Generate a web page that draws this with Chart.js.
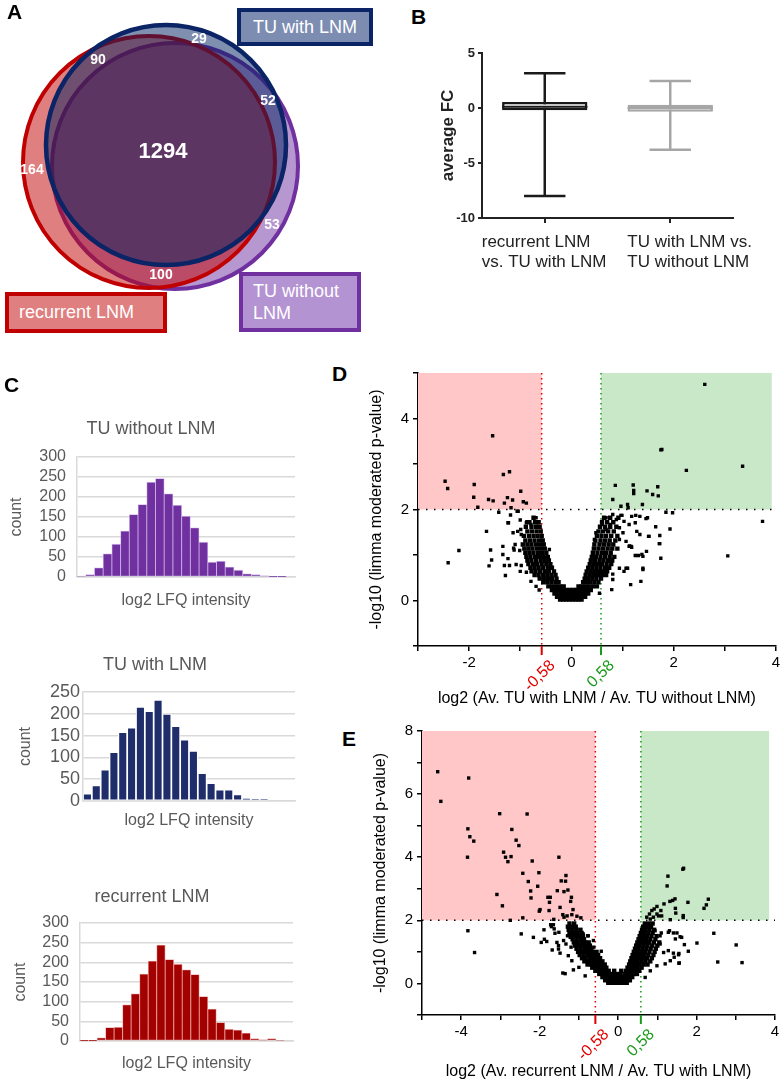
<!DOCTYPE html>
<html>
<head>
<meta charset="utf-8">
<script src="https://cdn.jsdelivr.net/npm/chart.js@4.4.1/dist/chart.umd.min.js"></script>
<style>
  body { margin: 0; background: #fff; }
  #page { position: relative; width: 783px; height: 1081px; overflow: hidden; font-family: "Liberation Sans", Arial, sans-serif; }
  canvas { position: absolute; }
  .letter { position: absolute; font-weight: bold; font-size: 21px; line-height: 21px; color: #000; }
  .tag { position: absolute; box-sizing: border-box; border: 4px solid; color: #fff; font-size: 18px; line-height: 22px; z-index: 3; }
</style>
</head>
<body>
<div id="page">
  <canvas id="venn" width="390" height="340" style="left:0;top:0"></canvas>
  <canvas id="box" width="347" height="239" style="left:436px;top:41px"></canvas>
  <canvas id="hist1" width="300" height="194" style="left:0;top:418px"></canvas>
  <canvas id="hist2" width="300" height="178" style="left:0;top:654px"></canvas>
  <canvas id="hist3" width="300" height="189" style="left:0;top:886px"></canvas>
  <canvas id="volD" width="416" height="373" style="left:367px;top:335px"></canvas>
  <canvas id="volE" width="412" height="366" style="left:371px;top:715px"></canvas>

  <div class="letter" style="left:7px;top:1px">A</div>
  <div class="letter" style="left:411px;top:6px">B</div>
  <div class="letter" style="left:4px;top:374px">C</div>
  <div class="letter" style="left:332px;top:363px">D</div>
  <div class="letter" style="left:342px;top:728px">E</div>

  <div class="tag" style="left:237px;top:8px;width:136px;height:38px;border-color:#0b2466;background:#7d8db2;text-align:center;line-height:30px">TU with LNM</div>
  <div class="tag" style="left:5px;top:292px;width:162px;height:41px;border-color:#c00000;background:#e07f7f;padding-left:10px;line-height:33px">recurrent LNM</div>
  <div class="tag" style="left:239px;top:272px;width:122px;height:60px;border-color:#7030a0;background:#b493d2;padding-left:10px;padding-top:4px">TU without<br>LNM</div>
</div>

<script>
const FONT = '"Liberation Sans", Arial, sans-serif';
Chart.defaults.font.family = FONT;
Chart.defaults.animation = false;
Chart.defaults.plugins.legend.display = false;
Chart.defaults.plugins.tooltip.enabled = false;

// ---- A: Venn ----
const vennSets = ['TU with LNM', 'recurrent LNM', 'TU without LNM'];
const vennX = [166, 149, 175];
const vennY = [145, 162, 166];
const vennR = [120, 126, 123];
const vennCounts = [1294, 90, 29, 52, 164, 53, 100];

// ---- B: box plot ----
const boxLabels = [['recurrent LNM', 'vs. TU with LNM'], ['TU with LNM vs.', 'TU without LNM']];
const boxMin = [-8.0, -3.8];
const boxQ1 = [-0.2, -0.35];
const boxMed = [0.12, 0.0];
const boxQ3 = [0.55, 0.3];
const boxMax = [3.15, 2.45];

// ---- C: histograms ----
const histNoLNM = [2, 6, 23, 58, 82, 115, 156, 181, 237, 246, 208, 179, 152, 123, 87, 37, 39, 25, 17, 8, 6, 3, 1, 1, 0];
const histWithLNM = [17, 36, 72, 112, 158, 168, 216, 206, 232, 200, 172, 141, 115, 64, 41, 26, 26, 15, 7, 4, 4, 0, 0, 0];
const histRecurrent = [1, 1, 8, 34, 35, 92, 120, 170, 203, 244, 207, 195, 181, 169, 113, 81, 47, 30, 28, 20, 6, 3, 6, 2, 0];

// ---- D / E: volcano ----
const fcCut = 0.58;
const pCut = 2;
const cutLabels = ['-0,58', '0,58'];

const dCloud = [
  [0.02, [-0.22, -0.16, -0.10, -0.04, 0.02, 0.08, 0.14, 0.20]],
  [0.08, [-0.28, -0.21, -0.14, -0.08, -0.02, 0.03, 0.09, 0.15, 0.22, 0.27]],
  [0.15, [-0.33, -0.26, -0.19, -0.12, -0.06, 0.0, 0.06, 0.13, 0.20, 0.27, 0.33]],
  [0.23, [-0.38, -0.31, -0.24, -0.17, -0.10, -0.03, 0.04, 0.10, 0.17, 0.24, 0.31, 0.38]],
  [0.31, [-0.45, -0.38, -0.30, -0.22, -0.15, 0.14, 0.20, 0.27, 0.34, 0.42, 0.50]],
  [0.40, [-0.55, -0.47, -0.39, -0.31, -0.25, 0.23, 0.30, 0.37, 0.45, 0.53]],
  [0.48, [-0.62, -0.54, -0.46, -0.38, -0.29, 0.26, 0.33, 0.41, 0.49, 0.58]],
  [0.56, [-0.72, -0.64, -0.55, -0.47, -0.39, -0.31, 0.28, 0.36, 0.44, 0.52, 0.60, 0.68]],
  [0.64, [-0.78, -0.70, -0.61, -0.52, -0.44, -0.34, 0.30, 0.38, 0.46, 0.54, 0.62, 0.70]],
  [0.72, [-0.80, -0.72, -0.64, -0.55, -0.46, -0.38, 0.33, 0.41, 0.49, 0.57, 0.66, 0.74]],
  [0.80, [-0.84, -0.75, -0.67, -0.58, -0.49, -0.41, 0.36, 0.44, 0.52, 0.60, 0.69, 0.78]],
  [0.88, [-0.86, -0.78, -0.69, -0.60, -0.52, -0.44, 0.38, 0.46, 0.55, 0.63, 0.72, 0.80]],
  [0.96, [-0.88, -0.80, -0.71, -0.63, -0.55, -0.46, 0.40, 0.48, 0.57, 0.66, 0.75, 0.84]],
  [1.05, [-0.90, -0.82, -0.74, -0.65, -0.57, -0.49, 0.42, 0.51, 0.60, 0.68, 0.77]],
  [1.14, [-0.92, -0.84, -0.76, -0.67, -0.59, -0.52, 0.44, 0.53, 0.62, 0.71, 0.80, 0.90]],
  [1.23, [-0.95, -0.86, -0.78, -0.69, -0.61, -0.54, 0.45, 0.55, 0.64, 0.73, 0.82]],
  [1.32, [-0.90, -0.81, -0.72, -0.63, -0.56, 0.47, 0.57, 0.66, 0.75, 0.86]],
  [1.42, [-0.93, -0.83, -0.74, -0.66, -0.58, 0.50, 0.59, 0.68, 0.78, 0.90]],
  [1.52, [-0.86, -0.77, -0.68, -0.60, 0.53, 0.62, 0.72, 0.83]],
  [1.62, [-0.89, -0.78, -0.69, -0.62, 0.56, 0.66, 0.76, 0.88]],
  [1.72, [-0.82, -0.71, -0.64, 0.60, 0.70, 0.82]],
  [1.82, [-0.74, 0.64, 0.76, 0.92]]
];
const dScatter = [
  [-2.47, 2.62], [-2.42, 2.46], [-1.54, 3.62], [-1.90, 2.55], [-1.91, 2.27], [-1.83, 2.05], [-1.62, 2.22], [-1.53, 2.19],
  [-1.33, 2.77], [-1.21, 2.83], [-1.31, 2.14], [-1.25, 2.26], [-1.15, 2.21], [-1.18, 2.04], [-0.99, 2.40], [-0.94, 2.17], [-0.88, 2.14],
  [2.61, 4.75], [1.75, 3.31], [1.77, 3.32], [2.25, 2.86], [3.35, 2.95], [0.86, 2.53], [1.21, 2.54], [1.22, 2.42], [1.22, 2.35],
  [1.48, 2.41], [1.59, 2.33], [1.69, 2.50], [1.70, 2.30], [0.81, 2.22], [0.97, 2.07], [1.10, 2.11], [1.11, 2.04], [1.39, 2.11],
  [-1.04, 1.96], [-1.42, 1.94], [-1.19, 1.88], [-1.06, 1.96], [-1.00, 1.77], [-1.23, 1.71], [-0.87, 1.73], [-0.69, 1.82],
  [-1.66, 1.52], [-1.14, 1.49], [-1.05, 1.52], [-0.98, 1.45], [-1.34, 1.19], [-1.58, 1.11], [-2.20, 1.10], [-2.41, 0.83],
  [-1.34, 1.01], [-1.56, 0.89], [-1.61, 0.76], [-1.24, 0.92], [-1.31, 0.77], [-1.21, 0.77], [-1.08, 0.79], [-0.98, 0.77],
  [-1.29, 0.55], [-1.13, 1.15], [-1.12, 1.11], [-1.01, 1.10], [-1.00, 0.64], [-0.88, 0.62], [-0.79, 0.42], [-0.69, 0.31],
  [-0.63, 0.23], [-0.43, 1.12], [-0.50, 0.95], [-0.54, 0.42], [-1.10, 1.23], [-0.99, 1.56], [-0.88, 1.71], [-0.79, 1.67], [-1.24, 1.71],
  [1.85, 1.94], [1.98, 1.93], [1.93, 1.57], [3.74, 1.74], [3.06, 0.98], [1.65, 1.62], [1.73, 1.43], [1.73, 1.25], [1.75, 0.93],
  [1.36, 0.42], [1.40, 0.68], [1.38, 1.01], [1.47, 1.08], [1.16, 0.35], [1.10, 0.71], [1.03, 0.64], [0.79, 0.24], [1.25, 0.99],
  [1.31, 0.99], [1.17, 1.19], [1.14, 1.20], [1.51, 1.41], [1.34, 1.45], [1.28, 1.52], [1.18, 1.85], [1.26, 1.87], [1.46, 1.80],
  [0.99, 1.87], [0.88, 1.78], [0.76, 1.67], [0.68, 1.56], [0.60, 1.67], [0.48, 1.49], [0.45, 1.34], [0.55, 0.16],
  [0.60, 1.74], [0.68, 1.82], [0.81, 1.89], [0.97, 1.87], [1.03, 1.74], [1.13, 1.67], [1.25, 1.71], [1.34, 1.85], [1.49, 1.82],
  [1.52, 1.41], [1.72, 1.25], [1.40, 0.97], [1.40, 0.71], [1.07, 0.71], [0.94, 0.71], [0.81, 0.46], [0.81, 0.58], [1.13, 1.19],
  [1.18, 1.17], [1.07, 1.30], [0.94, 1.34], [1.01, 1.49], [0.94, 1.60], [0.71, 1.52]
];

const eCloud = [
  [0.02, [-0.25, -0.17, -0.09, -0.01, 0.07, 0.15, 0.22]],
  [0.10, [-0.33, -0.25, -0.17, -0.09, -0.01, 0.07, 0.15, 0.23, 0.30]],
  [0.20, [-0.40, -0.32, -0.24, -0.16, -0.08, 0.0, 0.06, 0.12, 0.20, 0.28, 0.36]],
  [0.30, [-0.48, -0.40, -0.31, -0.23, -0.15, -0.05, 0.05, 0.16, 0.24, 0.32, 0.40, 0.48]],
  [0.40, [-0.58, -0.49, -0.40, -0.31, -0.24, -0.10, 0.08, 0.20, 0.28, 0.36, 0.45, 0.54]],
  [0.50, [-0.66, -0.57, -0.48, -0.39, -0.30, 0.24, 0.32, 0.41, 0.50, 0.60]],
  [0.60, [-0.78, -0.69, -0.60, -0.51, -0.42, -0.34, 0.28, 0.37, 0.46, 0.55, 0.65, 0.75]],
  [0.70, [-0.86, -0.77, -0.67, -0.58, -0.49, -0.40, 0.31, 0.40, 0.50, 0.60, 0.70, 0.82]],
  [0.80, [-0.92, -0.83, -0.73, -0.64, -0.55, -0.46, 0.34, 0.43, 0.53, 0.63, 0.74, 0.86]],
  [0.90, [-0.98, -0.88, -0.78, -0.69, -0.60, -0.51, 0.37, 0.46, 0.56, 0.66, 0.77, 0.90]],
  [1.00, [-1.02, -0.92, -0.82, -0.73, -0.64, -0.55, 0.40, 0.49, 0.59, 0.69, 0.80, 0.93]],
  [1.10, [-1.06, -0.96, -0.86, -0.77, -0.68, 0.43, 0.52, 0.62, 0.72, 0.83, 0.96]],
  [1.20, [-1.10, -1.00, -0.90, -0.81, -0.72, 0.46, 0.55, 0.65, 0.75, 0.87, 1.00]],
  [1.30, [-1.13, -1.03, -0.93, -0.84, -0.75, 0.49, 0.58, 0.68, 0.79, 0.91, 1.05]],
  [1.40, [-1.16, -1.06, -0.96, -0.87, 0.52, 0.61, 0.71, 0.82, 0.95]],
  [1.50, [-1.20, -1.10, -1.00, -0.90, 0.55, 0.64, 0.74, 0.85, 0.98]],
  [1.60, [-1.24, -1.13, -1.03, -0.93, 0.58, 0.67, 0.77, 0.88]],
  [1.70, [-1.26, -1.16, -1.06, -0.96, 0.61, 0.70, 0.80, 0.92]],
  [1.80, [-1.28, -1.18, -1.08, 0.64, 0.73, 0.84]],
  [1.90, [-1.24, -1.12, 0.68, 0.78, 0.88]]
];
const eScatter = [
  [-4.60, 6.71], [-4.52, 5.77], [-3.81, 6.51], [-3.83, 4.90], [-3.78, 4.65], [-3.68, 4.51], [-3.84, 4.00], [-3.02, 5.38],
  [-2.32, 5.37], [-2.71, 4.88], [-2.60, 4.54], [-2.53, 4.37], [-2.92, 4.16], [-2.87, 4.00], [-2.73, 4.02], [-2.81, 3.86],
  [-2.19, 3.88], [-1.51, 4.00], [-2.43, 3.49], [-2.02, 3.51], [-2.29, 3.23], [-2.05, 3.08], [-2.23, 2.93], [-2.22, 2.71],
  [-3.09, 2.82], [-2.95, 2.46], [-2.75, 2.00], [-2.43, 2.08], [-1.99, 2.34], [-2.01, 2.29], [-1.79, 2.73], [-1.73, 2.73],
  [-1.75, 2.57], [-1.76, 2.31], [-1.55, 2.94], [-1.45, 3.25], [-1.34, 3.24], [-1.33, 3.42], [-1.38, 2.91], [-1.28, 2.96],
  [-1.48, 2.41], [-1.19, 2.73], [-1.21, 2.60], [-1.15, 2.34], [-1.41, 2.18], [-1.38, 2.10], [-1.30, 2.14], [-1.18, 2.18],
  [-1.05, 2.13], [-0.95, 2.08], [-1.64, 2.03],
  [1.67, 3.65], [1.65, 3.62], [1.27, 3.40], [1.25, 3.09], [1.78, 2.57], [2.30, 2.67], [2.25, 2.49], [2.19, 2.38], [1.32, 2.60],
  [1.39, 2.63], [1.45, 2.68], [1.46, 2.38], [1.47, 2.23], [1.66, 2.15], [1.66, 2.09], [1.17, 2.52], [1.09, 2.31], [0.99, 2.44],
  [0.92, 2.36], [0.86, 2.31], [0.80, 2.20], [0.99, 2.20], [1.03, 2.14], [1.11, 2.14], [0.73, 2.10], [0.90, 2.10], [1.33, 2.02], [0.82, 2.04],
  [-3.83, 1.67], [-3.66, 0.98], [-2.47, 1.57], [-2.16, 1.46], [-1.96, 1.30], [-1.82, 1.33], [-1.88, 1.40], [-1.68, 1.06],
  [-1.65, 1.86], [-1.63, 1.73], [-1.51, 1.62], [-1.52, 1.09], [-1.48, 0.96], [-1.41, 0.33], [-1.35, 0.31], [-1.14, 0.43],
  [-1.00, 0.51], [-1.39, 1.36], [-1.33, 1.25], [-1.22, 1.46], [-1.20, 1.15], [-1.06, 1.30], [-0.89, 1.57], [-0.76, 1.51],
  [-0.43, 1.02], [-1.89, 1.70], [-1.72, 1.86], [-1.70, 1.80], [-1.61, 1.59], [-1.56, 1.30], [-1.52, 1.20], [-1.27, 0.88],
  [-1.18, 0.72], [-1.29, 1.51], [-1.21, 1.62], [-1.12, 1.86], [-0.84, 0.24], [-0.62, 1.15], [-0.63, 1.36], [-0.78, 1.51],
  [2.44, 1.59], [3.01, 1.22], [3.16, 0.66], [2.54, 0.68], [2.01, 1.28], [1.79, 1.02], [1.56, 0.65], [1.54, 0.91], [1.41, 0.96],
  [1.46, 1.41], [1.58, 1.48], [1.41, 1.60], [1.31, 1.67], [1.10, 1.60], [0.82, 1.78], [0.94, 1.67], [1.07, 1.51], [1.28, 1.62],
  [1.50, 1.60], [1.62, 1.46], [1.69, 1.23], [1.55, 0.95], [1.43, 0.83], [1.55, 0.64], [1.33, 0.72], [1.28, 1.04], [1.16, 0.98],
  [1.20, 0.62], [0.99, 0.56], [0.82, 0.40], [0.69, 0.19], [1.07, 1.25]
];

function cloudPoints(cloud) {
  const pts = [];
  cloud.forEach(([y, xs]) => xs.forEach(x => pts.push({x, y})));
  return pts;
}
function scatterPoints(list) {
  return list.map(([x, y]) => ({x, y}));
}

// ---------- A ----------
const vennLabelAt = [[163, 152], [98, 60], [199, 39], [268, 101], [32, 170], [272, 225], [161, 275]];
const vennStyle = [
  {line: '#0b2466', fill: 'rgba(0,32,96,0.5)', w: 4.5},
  {line: '#c00000', fill: 'rgba(192,0,0,0.5)', w: 4},
  {line: '#7030a0', fill: 'rgba(112,48,160,0.5)', w: 4}
];
new Chart(document.getElementById('venn'), {
  type: 'bubble',
  data: {
    datasets: vennSets.map((name, i) => ({
      label: name,
      data: [{x: vennX[i], y: vennY[i], r: vennR[i]}],
      backgroundColor: vennStyle[i].fill,
      borderColor: vennStyle[i].line,
      borderWidth: vennStyle[i].w
    }))
  },
  options: {
    responsive: false, events: [], clip: false,
    layout: {padding: 0, autoPadding: false},
    scales: {
      x: {type: 'linear', min: 0, max: 390, display: false},
      y: {type: 'linear', min: 0, max: 340, reverse: true, display: false}
    }
  },
  plugins: [{
    id: 'vennCounts',
    afterDatasetsDraw(chart) {
      const {ctx, scales: {x, y}} = chart;
      ctx.save();
      ctx.fillStyle = '#fff';
      ctx.textAlign = 'center';
      ctx.textBaseline = 'middle';
      vennCounts.forEach((n, i) => {
        ctx.font = (i === 0 ? 'bold 22px ' : 'bold 14px ') + FONT;
        ctx.fillText(String(n), x.getPixelForValue(vennLabelAt[i][0]), y.getPixelForValue(vennLabelAt[i][1]));
      });
      ctx.restore();
    }
  }]
});

// ---------- B ----------
const boxColors = ['#1a1a1a', '#a6a6a6'];
const boxLabelShift = [-63, -43];
new Chart(document.getElementById('box'), {
  type: 'bar',
  data: {
    labels: boxLabels,
    datasets: [{
      data: boxQ1.map((q, i) => [q, boxQ3[i]]),
      backgroundColor: '#fff',
      borderColor: boxColors,
      borderWidth: 2.5,
      borderSkipped: false,
      barPercentage: 0.68,
      categoryPercentage: 1
    }]
  },
  options: {
    responsive: false, events: [],
    layout: {padding: {top: 12, right: 50, left: 0, bottom: 0}},
    scales: {
      x: {
        afterFit: s => { s.height = 62; s.paddingLeft = 0; s.paddingRight = 0; },
        border: {color: '#222', width: 2},
        grid: {offset: false, drawOnChartArea: false, tickLength: 5, color: '#222', lineWidth: 2},
        ticks: {display: false}
      },
      y: {
        min: -10, max: 5,
        afterFit: s => { s.width = 46; },
        border: {color: '#222', width: 2},
        grid: {drawOnChartArea: false, tickLength: 4, color: '#222', lineWidth: 2},
        ticks: {stepSize: 5, color: '#222', font: {size: 13, weight: 'bold'}, padding: 3},
        title: {display: true, text: 'average FC', color: '#222', font: {size: 17, weight: 'bold'}, padding: {top: 2, bottom: 0}}
      }
    }
  },
  plugins: [{
    id: 'whiskers',
    beforeDatasetsDraw(chart) {
      const {ctx, scales: {x, y}} = chart;
      const cap = 0.33 * x.width / boxLabels.length / 2;
      ctx.save();
      ctx.lineWidth = 2.5;
      boxLabels.forEach((_, i) => {
        const cx = x.getPixelForValue(i);
        ctx.strokeStyle = boxColors[i];
        ctx.beginPath();
        ctx.moveTo(cx, y.getPixelForValue(boxMax[i]));
        ctx.lineTo(cx, y.getPixelForValue(boxMin[i]));
        [boxMax[i], boxMin[i]].forEach(v => {
          ctx.moveTo(cx - cap, y.getPixelForValue(v));
          ctx.lineTo(cx + cap, y.getPixelForValue(v));
        });
        ctx.stroke();
      });
      ctx.restore();
    },
    afterDatasetsDraw(chart) {
      const {ctx, scales: {y}} = chart;
      const bars = chart.getDatasetMeta(0).data;
      ctx.save();
      ctx.lineWidth = 2;
      bars.forEach((el, i) => {
        ctx.strokeStyle = boxColors[i];
        const py = y.getPixelForValue(boxMed[i]);
        ctx.beginPath();
        ctx.moveTo(el.x - el.width / 2, py);
        ctx.lineTo(el.x + el.width / 2, py);
        ctx.stroke();
      });
      ctx.restore();
    },
    afterDraw(chart) {
      const {ctx, chartArea: a, scales: {x}} = chart;
      ctx.save();
      ctx.fillStyle = '#222';
      ctx.font = '17px ' + FONT;
      ctx.textAlign = 'left';
      ctx.textBaseline = 'middle';
      boxLabels.forEach((lines, i) => {
        const lx = x.getPixelForValue(i) + boxLabelShift[i];
        lines.forEach((t, k) => ctx.fillText(t, lx, a.bottom + 24 + k * 20));
      });
      ctx.restore();
    }
  }]
});

// ---------- C ----------
function makeHist(id, counts, o) {
  new Chart(document.getElementById(id), {
    type: 'bar',
    data: {
      labels: counts.map((_, i) => 'bin ' + (i + 1)),
      datasets: [{
        data: counts,
        backgroundColor: o.color,
        borderColor: o.edge,
        borderWidth: o.edgeW,
        borderSkipped: false,
        barPercentage: 1,
        categoryPercentage: 1
      }]
    },
    options: {
      responsive: false, events: [],
      layout: {padding: {left: o.padL, right: o.padR, top: 0, bottom: 0}},
      plugins: {
        title: {display: true, text: o.title, color: '#595959', font: {size: 18, weight: 'normal'}, padding: {top: 0, bottom: o.titleGap}}
      },
      scales: {
        x: {
          afterFit: s => { s.height = o.xH; },
          ticks: {display: false},
          grid: {display: false},
          border: {color: '#d9d9d9', width: 1.5},
          title: {display: true, text: 'log2 LFQ intensity', color: '#595959', font: {size: 16}, padding: {top: 0, bottom: 2}}
        },
        y: {
          min: 0, max: o.yMax,
          afterFit: s => { s.width = o.yW; },
          grid: {color: '#d9d9d9', lineWidth: 1.5, drawTicks: false},
          border: {color: '#d9d9d9', width: 1.5},
          ticks: {stepSize: 50, autoSkip: false, color: '#595959', font: {size: o.tickSize}, padding: o.tickPad},
          title: {display: true, text: 'count', color: '#595959', font: {size: 16}, padding: {top: o.countPad, bottom: 0}}
        }
      }
    }
  });
}
makeHist('hist1', histNoLNM, {title: 'TU without LNM', color: '#7030a0', edge: 'rgba(190,160,225,0.8)', edgeW: 0.8,
  yMax: 300, padL: 7, padR: 5, yW: 70, xH: 35, titleGap: 17.4, tickSize: 16, tickPad: 11, countPad: 0});
makeHist('hist2', histWithLNM, {title: 'TU with LNM', color: '#1f2d6b', edge: '#ffffff', edgeW: 1.2,
  yMax: 250, padL: 15, padR: 5, yW: 68, xH: 31, titleGap: 16.4, tickSize: 18, tickPad: 3, countPad: 1.4});
makeHist('hist3', histRecurrent, {title: 'recurrent LNM', color: '#a30000', edge: 'rgba(230,150,150,0.8)', edgeW: 0.8,
  yMax: 300, padL: 11, padR: 7, yW: 69, xH: 34, titleGap: 15.4, tickSize: 16, tickPad: 11, countPad: 0});

// ---------- D / E ----------
const volcanoDecor = {
  id: 'volcanoDecor',
  beforeDatasetsDraw(chart, args, o) {
    const {ctx, chartArea: a, scales: {x, y}} = chart;
    const xl = x.getPixelForValue(-fcCut), xr = x.getPixelForValue(fcCut);
    const yp = y.getPixelForValue(pCut);
    const ge = x.getPixelForValue(o.greenEnd);
    ctx.save();
    ctx.fillStyle = '#ffc7c7';
    ctx.fillRect(a.left, a.top, xl - a.left, yp - a.top);
    ctx.fillStyle = '#c8e8c8';
    ctx.fillRect(xr, a.top, ge - xr, yp - a.top);
    ctx.lineWidth = 1.5;
    ctx.setLineDash([1.5, 6.5]);
    ctx.strokeStyle = '#000';
    ctx.beginPath(); ctx.moveTo(a.left, yp); ctx.lineTo(a.right, yp); ctx.stroke();
    ctx.setLineDash([1.5, 3.5]);
    ctx.strokeStyle = '#e00000';
    ctx.beginPath(); ctx.moveTo(xl, a.top); ctx.lineTo(xl, a.bottom); ctx.stroke();
    ctx.strokeStyle = '#1a9a1a';
    ctx.beginPath(); ctx.moveTo(xr, a.top); ctx.lineTo(xr, a.bottom); ctx.stroke();
    ctx.restore();
  },
  afterDraw(chart) {
    const {ctx, chartArea: a, scales: {x}} = chart;
    ctx.save();
    ctx.lineWidth = 2;
    [[-fcCut, '#e00000', cutLabels[0]], [fcCut, '#1a9a1a', cutLabels[1]]].forEach(([v, c, t]) => {
      const px = x.getPixelForValue(v);
      ctx.strokeStyle = c;
      ctx.beginPath(); ctx.moveTo(px, a.bottom); ctx.lineTo(px, a.bottom + 9); ctx.stroke();
      ctx.save();
      ctx.translate(px + 11, a.bottom + 17);
      ctx.rotate(-Math.PI / 4);
      ctx.fillStyle = c;
      ctx.font = '16px ' + FONT;
      ctx.textAlign = 'right';
      ctx.textBaseline = 'middle';
      ctx.fillText(t, 0, 0);
      ctx.restore();
    });
    ctx.restore();
  }
};

function makeVolcano(id, cloud, scatter, o) {
  const evenOnly = v => (v % 2 === 0 ? String(v) : '');
  new Chart(document.getElementById(id), {
    type: 'scatter',
    data: {datasets: [
      {data: scatterPoints(scatter), backgroundColor: '#000', borderWidth: 0, pointStyle: 'rect', pointRadius: 2.4},
      {data: cloudPoints(cloud), backgroundColor: '#000', borderWidth: 0, pointStyle: 'rect', pointRadius: 3.1}
    ]},
    options: {
      responsive: false, events: [],
      layout: {padding: {top: o.padT, right: o.padR, left: 0, bottom: 0}},
      plugins: {volcanoDecor: {greenEnd: o.greenEnd}},
      scales: {
        x: {
          type: 'linear', min: o.xMin, max: o.xMax,
          afterFit: s => { s.height = o.xH; },
          border: {color: '#000', width: 1.5},
          grid: {drawOnChartArea: false, tickLength: 5, color: '#000', lineWidth: 1.5},
          ticks: {stepSize: 1, autoSkip: false, maxRotation: 0, padding: 3, color: '#000', font: {size: 15}, callback: evenOnly},
          title: {display: true, text: o.xTitle, color: '#000', font: {size: 16}, padding: {top: 0, bottom: 0}}
        },
        y: {
          type: 'linear', min: o.yMin, max: o.yMax,
          afterFit: s => { s.width = 51; },
          border: {color: '#000', width: 1.5},
          grid: {drawOnChartArea: false, tickLength: 5, color: '#000', lineWidth: 1.5},
          ticks: {stepSize: 1, autoSkip: false, padding: 4, color: '#000', font: {size: 15}, callback: evenOnly},
          title: {display: true, text: '-log10 (limma moderated p-value)', color: '#000', font: {size: 16}, padding: {top: 0, bottom: 0}}
        }
      }
    },
    plugins: [volcanoDecor]
  });
}
makeVolcano('volD', dCloud, dScatter, {
  xMin: -3, xMax: 4, yMin: -1, yMax: 5, greenEnd: 3.92, padT: 38, padR: 6, xH: 62,
  xTitle: 'log2 (Av. TU with LNM / Av. TU without LNM)'
});
makeVolcano('volE', eCloud, eScatter, {
  xMin: -5, xMax: 4, yMin: -1, yMax: 8, greenEnd: 3.85, padT: 16, padR: 8, xH: 66,
  xTitle: 'log2 (Av. recurrent LNM / Av. TU with LNM)'
});
</script>
</body>
</html>
